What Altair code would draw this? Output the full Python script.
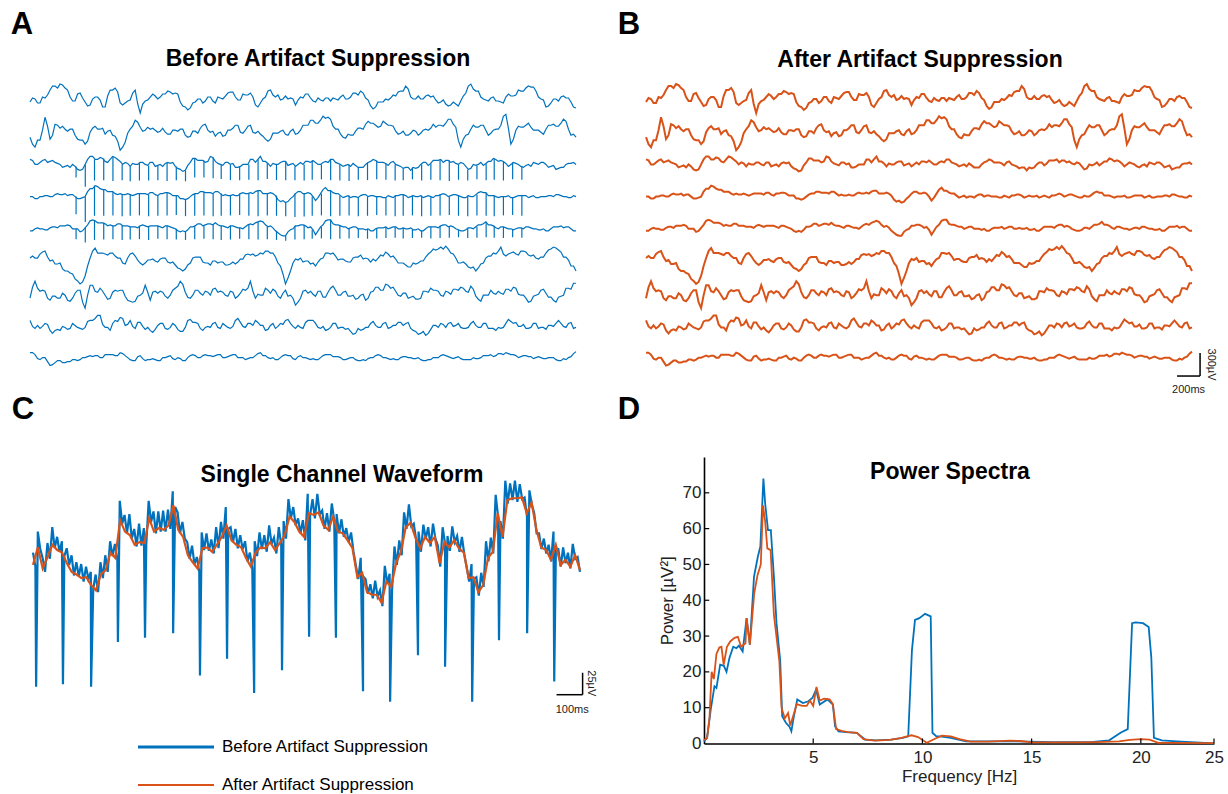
import altair as alt
import pandas as pd

BLUE = "#0072BD"
ORANGE = "#D95319"
FONT = "Liberation Sans"

# ---------------- Panels A / B : nine stacked EEG channels (µV) ----------------
# Each channel: samples read at an even step over the 4.74 s window (ch_k), plus the
# values read half-way between consecutive samples (ch_k_mid).
T_WIN = 4.74          # seconds shown
CH_SPACING = 420      # µV between stacked channels
ch_1 = [-26, 13, -39, 26, 130, 182, 208, 156, 39, -13, 91, -26, -65, 39, 0, -91, 130, 156, -39, -39,
        0, 130, -169, -13, 39, 52, 39, 78, 104, 91, -26, -91, -104, -26, 13, -13, 39, -39, 26, 52,
        104, 39, 0, 65, 91, -65, -39, 39, 130, 39, 0, 52, 26, -65, 39, 78, 26, -26, 0, 26,
        -13, 13, 39, 13, 39, 91, 117, 26, -78, -91, -26, 13, 26, 52, 117, 182, 39, 13, 13, 52,
        39, 0, -26, -52, -65, -52, -13, 91, 208, 117, 39, 0, 26, -13, -26, 39, 52, 65, 117, 156,
        169, 117, 13, -91, -39, 13, 39, 26, -26, -104]
ch_1_mid = [26, -39, 39, 65, 182, 156, 195, 130, -13, 78, 26, -78, 13, 39, -91, 52, 130, 104, -65, -13,
            91, -52, -52, 0, 78, 13, 78, 117, 78, 78, -78, -130, -39, 13, -39, 39, -13, 39, 13, 91,
            104, 0, 78, 65, 39, -91, 13, 117, 65, 65, 13, 13, 13, 0, 26, 78, -13, 26, -13, 26,
            26, 0, 65, 13, 91, 65, 91, 0, -117, -26, -26, 0, 65, 104, 117, 143, 13, 52, 13, 65,
            52, -39, 0, -78, -26, -78, 52, 182, 143, 117, 13, -13, 39, -13, -39, 78, 52, 130, 117, 182,
            169, 39, 0, -78, 13, -13, 52, 26, -91]
ch_2 = [-65, -195, -104, 195, -91, 104, 52, 39, 39, -39, -104, -156, 0, 78, 39, -26, 26, -52, -234, -130,
        39, 156, 65, 26, 39, 26, 13, 0, -26, 26, 39, -39, -52, 13, 52, 104, 0, -52, 0, -39,
        26, 91, 0, 26, 91, -13, -26, -91, -91, -13, 13, -26, 13, -26, 26, 91, 156, 117, 156, 182,
        169, 39, -26, -78, -39, 13, 52, 104, 117, 91, 78, 117, 91, 13, -13, -39, -13, 13, -13, 39,
        52, 65, 91, 117, 169, 65, -195, -39, 39, 65, 91, 26, -13, 39, 91, 234, -156, 26, 65, 91,
        65, 26, 0, 39, 91, 78, 117, 143, -39, -65]
ch_2_mid = [-156, -104, 26, 78, -39, 91, 78, 13, 39, -91, -104, -117, 52, 39, 52, 13, -39, -117, -195, -13,
            78, 130, 13, 65, 52, 0, 52, -26, 26, 13, 39, -65, 13, -13, 91, 26, 13, -13, -52, 26,
            52, 91, -13, 78, 0, 13, -52, -117, -13, -13, 26, -39, 39, -13, 91, 91, 156, 117, 208, 195,
            78, 39, -65, -26, -39, 52, 39, 143, 117, 65, 143, 91, 78, -26, 13, -39, 26, -39, 26, 26,
            104, 91, 78, 169, 104, -104, -91, -26, 91, 65, 91, -39, 26, 39, 208, 52, -91, 78, 65, 117,
            26, 26, -26, 91, 104, 78, 169, 39, -26]
ch_3 = [65, 0, 26, 65, 39, 26, 0, -26, -39, -26, -78, 0, 104, 65, 91, 39, 65, 91, 39, 26,
        -26, 0, 26, 0, 26, -26, 0, 13, 13, -26, -65, -78, 26, 78, 52, 26, 104, 39, 0, 26,
        0, -39, -26, 0, 65, 26, 104, 39, -26, 0, 26, 39, 0, -26, 26, 39, 26, 26, 0, 39,
        65, 26, 0, -13, -26, -13, -39, 0, 39, 52, 26, 13, 26, 0, -26, -39, -78, -52, 0, 26,
        13, 52, 65, 52, 26, 13, 26, -26, -52, -13, 26, 13, 39, 65, 52, 13, 0, 13, -26, -13,
        -26, 13, 26, 0, -26, -65, -39, 0, 13, 0]
ch_3_mid = [52, 0, 52, 26, 52, 13, -39, -13, 0, -65, -65, 65, 104, 65, 78, 26, 104, 65, 0, 13,
            13, 0, 26, -13, 26, -13, -26, 26, 26, -52, -91, -13, 78, 52, 52, 39, 91, 13, -13, 26,
            13, -39, 0, 0, 65, 65, 39, 13, 13, 0, 39, -13, 13, 0, 0, 39, 52, 0, 26, 26,
            65, 13, -26, 0, 13, -39, -39, 26, 65, 26, 26, -13, 39, -13, -52, -39, -39, -39, 26, -13,
            52, 52, 26, 52, 39, 0, 13, -65, 0, 0, -13, 39, 78, 39, 39, -26, 26, 0, -39, 0,
            26, 0, 26, -39, -13, -52, -39, 13, 26]
ch_4 = [0, -26, 0, 13, 0, 26, 26, 39, 26, 0, -26, 0, 104, 143, 104, 91, 65, 39, 39, 26,
        26, 26, 39, 39, 52, 26, 39, 52, 39, 13, -26, -39, 0, 39, 65, 52, 52, 65, 39, 26,
        13, 13, 39, 39, 52, 65, 78, 39, 52, 13, -65, -78, -26, 39, 65, 39, 39, -52, 39, 117,
        78, 39, 13, 0, -13, 0, 13, 26, 13, 0, 0, -13, 0, 13, 26, 13, 0, 0, 13, 0,
        0, 13, 26, 26, 13, 26, 0, -13, 0, 26, 65, 52, 13, 0, 0, 0, -13, 0, 13, 13,
        0, -13, 0, 0, 13, 26, 13, 0, -13, 0]
ch_4_mid = [0, -26, 0, 13, 0, 39, 26, 13, 26, -26, -13, 65, 104, 130, 91, 65, 65, 26, 26, 39,
            13, 39, 39, 26, 52, 13, 39, 52, 13, 13, -26, -26, 26, 39, 65, 52, 39, 65, 13, 13,
            26, 13, 52, 39, 39, 78, 39, 39, 39, -39, -52, -65, 0, 65, 39, 52, 0, -13, 91, 78,
            52, 39, -13, 13, 0, -13, 26, 0, 13, 0, -13, 13, -13, 13, 26, -13, 13, 0, -13, 13,
            -13, 13, 39, 0, 26, 13, -13, 13, 0, 52, 52, 13, 13, -13, 0, 13, -13, 13, 13, -13,
            13, -13, 0, 13, 0, 26, 0, -13, 13]
ch_5 = [-26, 0, 0, -13, 13, 26, 39, 39, 39, 0, -39, 13, 104, 104, 78, 65, 52, 39, 65, 39,
        26, 26, 39, 39, 39, 39, 26, 39, 26, 0, -39, -39, 26, 39, 65, 52, 65, 78, 39, 26,
        39, 26, 13, 26, 65, 78, 104, 52, 39, -26, -78, -91, -13, 39, 52, 39, 26, -78, 26, 104,
        117, 52, 39, 26, 13, 26, 0, -13, -26, 0, 13, 26, 13, 26, 0, 0, 13, -13, -26, 0,
        26, 26, 39, 52, 39, 0, -26, -13, 13, 26, 52, 91, 52, 13, 26, 13, 0, 0, 13, 26,
        13, 0, -13, -26, 0, 26, 39, 26, 0, -26]
ch_5_mid = [-26, 13, 0, -13, 26, 13, 39, 52, 0, 0, -26, 52, 117, 78, 78, 39, 39, 65, 39, 39,
            26, 13, 52, 26, 39, 39, 13, 39, 13, -26, -26, -13, 26, 65, 39, 65, 52, 52, 39, 13,
            39, 13, 0, 52, 52, 91, 91, 26, 13, -52, -91, -39, 0, 39, 52, 13, -13, -26, 52, 117,
            65, 52, 26, 0, 26, 0, 0, 0, -26, 13, 13, 0, 26, 0, 13, 0, -13, 0, -26, 26,
            26, 13, 52, 26, 26, -13, -26, 13, 0, 52, 65, 52, 39, 0, 26, 0, -13, 13, 0, 26,
            0, -13, 0, -26, 26, 26, 13, 26, -26]
ch_6 = [39, 39, 91, 130, 0, -39, -26, -130, -156, -234, -299, -195, 39, 169, 104, 91, 104, 65, 39, -39,
        91, 65, -26, -26, 13, 0, 26, 39, -26, -52, -104, -104, -26, 52, 52, -26, -52, 0, -13, -52,
        -39, -39, 26, 78, 78, 65, 104, 130, 104, 52, -65, -299, -130, 26, 39, 0, -39, -65, 26, 104,
        91, 65, 26, 0, -13, 52, 78, 39, -13, 0, 78, 117, 52, 26, -26, -52, -78, -39, 0, 52,
        117, 143, 182, 195, 104, 39, -26, -39, -91, -130, -39, 39, 65, 91, 182, 65, 104, 91, 130, 117,
        65, 39, 52, 104, 156, 169, 117, 52, -65, -130]
ch_6_mid = [65, 39, 117, 52, 13, -39, -104, -130, -169, -260, -273, -65, 130, 104, 104, 78, 104, 39, -26, 39,
            104, 13, -52, 13, 26, -13, 39, -13, -13, -91, -130, -52, 39, 52, -13, -26, 0, -26, -13, -52,
            -13, -13, 26, 91, 91, 78, 91, 130, 104, -26, -169, -221, -26, 13, -13, 0, -26, -13, 39, 104,
            104, 13, 26, -13, 39, 52, 26, 26, 26, 39, 65, 91, 65, -26, -26, -78, -26, -26, 0, 91,
            156, 156, 156, 156, 91, -26, -13, -78, -78, -91, -26, 65, 104, 130, 91, 91, 117, 78, 130, 78,
            78, 26, 52, 143, 182, 143, 52, 13, -65]
ch_7 = [-65, 156, 26, 26, -91, -39, -65, -26, -104, 0, 39, -195, 104, 26, 65, -26, -65, 39, 39, -39,
        -104, -104, -26, 104, -91, 26, 26, -39, -26, 65, 156, 13, -65, 39, 0, 26, -26, 65, 26, -26,
        26, -65, 0, 39, 156, -65, -26, 65, 0, 26, -65, 39, -26, -156, -65, 39, 26, -39, 26, -52,
        65, 39, -26, 26, -39, -78, -26, -91, 13, 78, 39, 117, 65, 26, -39, 0, -52, -78, -65, 26,
        65, 39, -26, 26, -13, 52, 78, 26, 91, -39, -104, -26, 39, -13, 0, 52, 26, 65, -26, -65,
        -104, -26, 39, 0, -52, -117, -39, 65, 52, 130]
ch_7_mid = [78, 65, 39, -65, -39, -65, 0, -91, -65, 39, -117, -26, 104, 13, 26, -78, 13, 26, 39, -91,
            -117, -39, 0, 13, 13, 0, 13, -65, 39, 91, 117, -52, -26, 39, -26, 13, 52, 13, 13, -39,
            13, -39, 52, 65, 26, -13, -26, 39, 52, -39, 0, -39, -65, -117, 26, 0, -13, 26, -52, 13,
            91, -26, 13, -39, -26, -65, -13, -65, 26, 78, 39, 104, 78, -26, 0, -65, -39, -78, 26, 13,
            39, 26, -39, 13, 52, 39, 65, 13, 52, -78, -26, -26, 0, 26, -13, 52, 78, -13, -26, -117,
            -39, -13, 52, -52, -91, -52, -26, 65, 130]
ch_8 = [65, -39, -39, 26, -65, -65, -65, -26, -39, 0, -39, -26, 65, 91, 130, -26, -65, 65, 104, 0,
        65, -39, 39, -52, -65, -52, 26, -39, -26, 0, -78, -26, 78, 39, -39, -26, -26, 39, -39, 0,
        -39, 65, 39, -26, 26, 65, 0, -65, 0, -39, 26, 65, 26, -39, -26, 39, 65, 26, -39, -65,
        -26, 26, -26, -52, -78, -104, -65, -26, 26, 0, -26, 39, -26, 0, 39, 26, -39, -78, -104, -130,
        -52, 0, 26, -26, 39, 0, -26, -39, 26, 0, -26, 26, -39, -65, -39, 26, 52, 39, -13, -39,
        -26, 26, -26, -52, 0, 26, 26, -26, 39, -26]
ch_8_mid = [-13, 0, -13, 13, -104, -52, -13, -52, 26, -26, -52, 52, 65, 130, 13, -26, 26, 52, 91, 13,
            -13, 39, -13, -26, -91, 0, 26, -52, 26, -52, -78, 65, 39, 26, -65, -13, 26, -26, 26, -26,
            -13, 91, -13, 26, 0, 39, 0, -52, 26, -13, 13, 78, -13, 0, -39, 65, 65, -26, -13, -52,
            26, -39, -26, -39, -117, -39, -52, -26, 52, -26, 26, -39, 0, 39, 0, 39, -65, -117, -78, -104,
            0, -26, 13, 26, -13, 26, -39, -26, 52, -26, 26, -39, -39, -26, -26, 78, 26, -13, 13, -39,
            26, -39, -26, 0, -13, 65, -13, 26, -39]
ch_9 = [65, 39, -26, 0, -104, -65, -39, -65, -52, -26, -26, 0, 26, 26, 0, 39, 39, 26, 65, 26,
        -26, -39, 26, -39, -26, -26, -39, 0, 26, -26, -13, -39, 26, 26, 0, 39, 26, 26, 39, 0,
        26, 39, 0, -26, 0, 26, 65, 26, -13, -26, 0, 39, 26, -26, 26, 0, -26, -26, 0, 39,
        39, 13, 0, -26, 0, -26, -39, -39, 0, 26, 26, 0, -26, -26, 0, 13, 0, -13, -26, -39,
        -26, 0, 26, 26, 0, 0, -13, -26, -26, -13, 0, 26, 39, 26, 52, 65, 39, 26, 13, 26,
        13, 0, 0, -13, 0, -26, -39, -26, 13, 78]
ch_9_mid = [65, -13, 0, -52, -91, -39, -65, -52, -26, -39, 0, 13, 13, 26, 0, 39, 39, 26, 52, 0,
            -39, 13, -13, -26, -13, -39, 0, 13, -13, 0, -39, 0, 39, 0, 26, 26, 13, 39, 0, 13,
            39, 0, 0, -13, 0, 52, 26, 0, 0, -26, 26, 26, -13, 13, 0, -13, -13, -26, 26, 39,
            13, 13, -26, -13, 0, -39, -26, -13, 0, 39, 0, -13, -13, -26, 13, 0, -13, 0, -39, -26,
            0, 0, 39, 13, -13, 13, -26, -26, 0, -13, 26, 26, 13, 52, 39, 52, 39, 0, 26, 13,
            -13, 13, -13, 0, 0, -39, -13, 0, 52]
channel_pairs = [(ch_1, ch_1_mid), (ch_2, ch_2_mid), (ch_3, ch_3_mid), (ch_4, ch_4_mid), (ch_5, ch_5_mid),
                 (ch_6, ch_6_mid), (ch_7, ch_7_mid), (ch_8, ch_8_mid), (ch_9, ch_9_mid)]

# stimulation artifacts (before suppression) on channels 3-5: times (s) and tip levels (µV)
spike_times = [0.40, 0.48, 0.56, 0.64, 0.72, 0.80, 0.87, 0.95, 1.03, 1.11, 1.19, 1.27, 1.35, 1.43, 1.51,
               1.59, 1.66, 1.74, 1.82, 1.90, 1.98, 2.06, 2.14, 2.22, 2.30, 2.38, 2.45, 2.53, 2.61, 2.69,
               2.77, 2.85, 2.93, 3.01, 3.09, 3.17, 3.24, 3.32, 3.40, 3.48, 3.56, 3.64, 3.72, 3.80, 3.88,
               3.96, 4.03, 4.11, 4.19, 4.27]
spike_tip_ch3 = [-170, -290, -210, -205, -215, -205, -220, -210, -210, -205, -215, -205, -220, -170, -170,
                 -180, -190, -205, -205, -200, -205, -190, -205, -205, -205, -210, -200, -195, -205, -210,
                 -215, -200, -205, -195, -200, -210, -205, -195, -210, -200, -205, -215, -200, -210, -195,
                 -205, -200, -210, -195, -200]
spike_tip_ch4 = [-230, -330, -250, -250, -245, -255, -250, -245, -255, -250, -245, -240, -255, -250, -245,
                 -255, -250, -245, -240, -250, -255, -245, -250, -255, -265, -260, -250, -245, -255, -250,
                 -245, -255, -250, -240, -245, -255, -250, -245, -255, -250, -245, -240, -250, -255, -245,
                 -250, -255, -245, -240, -250]
spike_tip_ch5 = [-135, -180, -145, -140, -135, -145, -140, -135, -145, -130, -135, -140, -145, -135, -130,
                 -135, -145, -140, -130, -135, -140, -135, -145, -155, -140, -135, -130, -125, -135, -130,
                 -125, -120, -130, -125, -120, -115, -125, -120, -115, -125, -120, -115, -110, -120, -115,
                 -110, -115, -120, -110, -115]

# ---------------- Panel C : single channel (µV) over 2100 ms ----------------
C_WIN = 2100
c_after = [-17, 3, -21, -8, 6, 0, -3, -15, -25, -28, -32, -31, -40, -46, -28, -23, -3, -9, 34, 21,
           17, 6, 9, 8, 36, 21, 25, 23, 28, 51, 23, 15, -6, -14, -21, 2, 3, -2, 6, 15,
           28, 11, 6, 3, -9, -19, -3, 3, 2, 9, 0, 8, 17, 38, 32, 21, 15, 42, 40, 43,
           28, 23, 38, 21, 19, 11, 2, -31, -26, -48, -51, -51, -60, -36, -42, -15, -2, 26, 31, 14,
           2, 15, 8, 15, -15, 9, 3, 11, 2, -3, -32, -31, -48, -40, -9, -2, 42, 15, 57, 59,
           59, 60, 42, 54, 23, 3, 0, -11, 6, -17, -11, -19, -6, -23]
c_before = [-3, -19, 21, 1, -9, -25, 8, -10, 26, 2, 15, -2, 10, -7, 2, -17, -6, -29, -14, -30,
            -16, -36, -19, -33, -25, -44, -28, -48, -14, -32, -6, -25, 10, -7, 7, -11, 56, 30, 40, 19,
            41, 13, 24, 4, 30, 5, 25, 6, 56, 32, 44, 19, 44, 21, 45, 21, 46, 24, 67, 49,
            43, 19, 32, 13, 9, -10, 5, -16, -8, -25, 20, 0, 19, -1, 12, -4, 26, 2, 32, 13,
            49, 24, 26, 9, 24, 2, 17, 1, 10, -13, -3, -21, 10, -7, 20, 1, 17, -2, 28, 7,
            14, -4, 26, 6, 33, 13, 58, 36, 49, 28, 36, 19, 34, 11, 64, 40, 58, 36, 64, 41,
            45, 24, 42, 21, 53, 34, 41, 19, 35, 15, 25, 9, 20, -2, -18, -33, -9, -30, -33, -50,
            -39, -55, -35, -53, -46, -64, -18, -38, -27, -46, 4, -17, 11, -6, 43, 24, 52, 27, 30, 12,
            21, -2, 29, 13, 26, 4, 30, 13, 5, -19, 26, 7, 16, -1, 27, 9, 16, -2, 15, -5,
            -20, -36, -16, -33, -31, -52, -26, -42, 10, -13, 14, -4, 63, 38, 33, 13, 79, 53, 76, 57,
            79, 55, 75, 58, 60, 38, 68, 52, 42, 19, 19, 1, 13, -4, 6, -13, 21, 2, 1, -19,
            3, -15, -3, -21, 7, -10, -8, -25]
c_spike_t = [12, 115, 223, 326, 430, 538, 641, 745, 849, 956, 1060, 1163, 1267, 1371, 1478, 1582, 1686, 1789, 1897, 2001]
c_spike_tip = [-156, -153, -156, -105, -100, -95, -143, -124, -163, -137, -99, -100, -161, -173, -120, -133, -173, -103, -95, -150]

# ---------------- Panel D : power spectra ----------------
d_before_f = [0, 0.14, 0.31, 0.48, 0.57, 0.74, 0.91, 1.03, 1.17, 1.34, 1.48, 1.6, 1.77, 1.95, 2.1, 2.29, 2.46, 2.58, 2.72, 2.8,
              2.93, 3.06, 3.2, 3.32, 3.49, 3.58, 3.75, 3.92, 4.0, 4.1, 4.27, 4.53, 4.78, 4.96, 5.13, 5.3, 5.65, 5.9, 6.0, 6.16,
              6.5, 7.0, 7.37, 7.88, 8.57, 9.1, 9.35, 9.52, 9.66, 9.86, 10.12, 10.38, 10.46, 10.64, 10.8, 11.3, 12, 13.4, 14.25, 16,
              17.7, 18.55, 19.07, 19.4, 19.6, 19.76, 20.1, 20.36, 20.48, 20.6, 20.96, 21.65, 23.35]
d_before_p = [0.6, 1.6, 9.5, 16, 15.5, 22, 21.7, 20, 24, 27, 26.6, 27.3, 25.7, 35, 27.6, 46.6, 52, 55, 74, 67,
              59.6, 59.6, 46.6, 33.6, 23, 7.6, 5.8, 4.6, 3.4, 7.1, 12.3, 11.3, 11.8, 12.7, 15, 10.9, 12.3, 10.9, 4.8, 3.4,
              3.2, 3, 1.1, 0.9, 1.1, 1.6, 2, 26, 34.5, 35, 36.2, 35.5, 3, 2, 2, 1.6, 0.6, 0.6, 0.6, 0.4,
              0.4, 0.9, 3, 4, 33.6, 33.8, 33.6, 32.5, 24, 1.6, 0.9, 0.6, 0]
d_after_f = [0, 0.14, 0.25, 0.35, 0.45, 0.57, 0.7, 0.8, 0.9, 1.05, 1.2, 1.4, 1.55, 1.7, 1.9, 1.95, 2.1, 2.3, 2.45, 2.6,
             2.7, 2.8, 2.9, 3.05, 3.2, 3.45, 3.55, 3.7, 3.85, 3.95, 4.1, 4.25, 4.5, 4.7, 4.85, 5.0, 5.15, 5.3, 5.5, 5.75,
             5.9, 6.05, 6.3, 6.6, 7.0, 7.3, 7.8, 8.5, 9.0, 9.5, 9.8, 10.2, 10.6, 10.9, 11.3, 11.7, 12.2, 13, 14, 14.5,
             15, 16, 17, 18, 19, 19.5, 20, 20.4, 20.8, 21.5, 23.35]
d_after_p = [1, 1.5, 7, 20, 18, 25, 26.8, 27, 22, 27, 28.5, 29.5, 29.8, 27, 28, 35, 27.6, 42, 47, 50,
             66.5, 62, 54.5, 54, 36, 23, 10, 7, 8.5, 5, 8, 11, 10.5, 10.5, 12, 10.5, 15.8, 12, 12.5, 12.3,
             11, 4, 3.5, 3.2, 3, 1.2, 0.8, 1, 1.5, 2.3, 1.8, 0.2, 1.4, 2.2, 2, 1.2, 0.5, 0.5, 0.8, 0.7,
             0.3, 0.3, 0.3, 0.4, 0.6, 1, 1.2, 1.1, 0.2, 0.2, 0.1]
d_x_ticks = [5, 10, 15, 20, 23.35]
d_y_ticks = [0, 10, 20, 30, 40, 50, 60, 70]


# ---------------- data frames ----------------
def merge_samples(main, mid):
    out = []
    for i, v in enumerate(main):
        out.append(v)
        if i < len(mid) and i < len(main) - 1:
            out.append(mid[i])
    return out


channels = [merge_samples(a, b) for a, b in channel_pairs]

rows = []
for ci, vals in enumerate(channels):
    n = len(vals)
    for i, v in enumerate(vals):
        rows.append({"ch": ci, "t": T_WIN * i / (n - 1), "y": v - ci * CH_SPACING})
eeg = pd.DataFrame(rows)

srows = []
for ci, tips in [(2, spike_tip_ch3), (3, spike_tip_ch4), (4, spike_tip_ch5)]:
    vals = channels[ci]
    n = len(vals)
    for t, tip in zip(spike_times, tips):
        idx = int(round(t / T_WIN * (n - 1)))
        srows.append({"ch": ci, "t": t, "y": vals[idx] - ci * CH_SPACING, "y2": tip - ci * CH_SPACING})
spikes = pd.DataFrame(srows)

c_after_df = pd.DataFrame({"t": [C_WIN * i / (len(c_after) - 1) for i in range(len(c_after))], "v": c_after})
c_before_df = pd.concat([
    pd.DataFrame({"t": [C_WIN * i / (len(c_before) - 1) for i in range(len(c_before))], "v": c_before}),
    pd.DataFrame({"t": c_spike_t, "v": c_spike_tip}),
]).sort_values("t")

d_before = pd.DataFrame({"f": d_before_f, "p": d_before_p})
d_after = pd.DataFrame({"f": d_after_f, "p": d_after_p})

# ---------------- scales (each panel placed on the canvas through its range) ----------------
xA = alt.Scale(domain=[0, T_WIN], range=[30, 576], nice=False, zero=False)
xB = alt.Scale(domain=[0, T_WIN], range=[646, 1192], nice=False, zero=False)
yAB = alt.Scale(domain=[-4000, 600], range=[406.7, 54], nice=False, zero=False)
xC = alt.Scale(domain=[0, C_WIN], range=[33, 580], nice=False, zero=False)
yC = alt.Scale(domain=[-200, 100], range=[725.4, 462.3], nice=False, zero=False)
xD = alt.Scale(domain=[0, 23.35], range=[704, 1214], nice=False, zero=False)
yD = alt.Scale(domain=[0, 80], range=[743.5, 457], nice=False, zero=False)

axD_x = alt.Axis(orient="bottom", offset=-50.5, values=d_x_ticks,
                 labelExpr="datum.value > 22 ? '25' : datum.label", ticks=False,
                 domainColor="black", domainWidth=1.6, labelFont=FONT, labelFontSize=17,
                 labelColor="#222", labelPadding=6, labelFlush=False, grid=False,
                 title="Frequency [Hz]", titleFont=FONT, titleFontSize=17, titleFontWeight="normal",
                 titleColor="#222", titlePadding=3)
axD_y = alt.Axis(orient="left", offset=-704, values=d_y_ticks, ticks=False,
                 domainColor="black", domainWidth=1.6, labelFont=FONT, labelFontSize=17,
                 labelColor="#222", labelPadding=3, labelFlush=False, grid=False,
                 title="Power [µV²]", titleFont=FONT, titleFontSize=17, titleFontWeight="normal",
                 titleColor="#222", titlePadding=6)

# ---------------- Panel A ----------------
a_lines = alt.Chart(eeg).mark_line(color=BLUE, strokeWidth=1.2).encode(
    x=alt.X("t:Q", scale=xA, axis=None), y=alt.Y("y:Q", scale=yAB, axis=None), detail="ch:N")
a_spikes = alt.Chart(spikes).mark_rule(color=BLUE, strokeWidth=1.2).encode(
    x=alt.X("t:Q", scale=xA, axis=None), y=alt.Y("y:Q", scale=yAB, axis=None), y2="y2:Q")
panel_a = alt.layer(a_lines, a_spikes)

# ---------------- Panel B ----------------
b_lines = alt.Chart(eeg).mark_line(color=ORANGE, strokeWidth=2).encode(
    x=alt.X("t:Q", scale=xB, axis=None), y=alt.Y("y:Q", scale=yAB, axis=None), detail="ch:N")
bar_b = pd.DataFrame({"t": [4.61, 4.81], "t2": [4.81, 4.81], "y": [-3600, -3600], "y2": [-3600, -3300]})
b_bar = alt.Chart(bar_b).mark_rule(color="black", strokeWidth=1.5).encode(
    x=alt.X("t:Q", scale=xB, axis=None), x2="t2:Q", y=alt.Y("y:Q", scale=yAB, axis=None), y2="y2:Q")
b_lab1 = alt.Chart(pd.DataFrame({"t": [4.71], "y": [-3600], "s": ["200ms"]})).mark_text(
    font=FONT, fontSize=11, dy=14, color="#222").encode(
    x=alt.X("t:Q", scale=xB, axis=None), y=alt.Y("y:Q", scale=yAB, axis=None), text="s:N")
b_lab2 = alt.Chart(pd.DataFrame({"t": [4.81], "y": [-3450], "s": ["300µV"]})).mark_text(
    font=FONT, fontSize=11, angle=90, dy=-11, color="#222").encode(
    x=alt.X("t:Q", scale=xB, axis=None), y=alt.Y("y:Q", scale=yAB, axis=None), text="s:N")
panel_b = alt.layer(b_lines, b_bar, b_lab1, b_lab2)

# ---------------- Panel C ----------------
c_blue = alt.Chart(c_before_df).mark_line(color=BLUE, strokeWidth=2.2).encode(
    x=alt.X("t:Q", scale=xC, axis=None), y=alt.Y("v:Q", scale=yC, axis=None))
c_orange = alt.Chart(c_after_df).mark_line(color=ORANGE, strokeWidth=2.2).encode(
    x=alt.X("t:Q", scale=xC, axis=None), y=alt.Y("v:Q", scale=yC, axis=None))
bar_c = pd.DataFrame({"t": [2010, 2110], "t2": [2110, 2110], "y": [-165, -165], "y2": [-165, -140]})
c_bar = alt.Chart(bar_c).mark_rule(color="black", strokeWidth=1.5).encode(
    x=alt.X("t:Q", scale=xC, axis=None), x2="t2:Q", y=alt.Y("y:Q", scale=yC, axis=None), y2="y2:Q")
c_lab1 = alt.Chart(pd.DataFrame({"t": [2070], "y": [-165], "s": ["100ms"]})).mark_text(
    font=FONT, fontSize=11, dy=15, color="#222").encode(
    x=alt.X("t:Q", scale=xC, axis=None), y=alt.Y("y:Q", scale=yC, axis=None), text="s:N")
c_lab2 = alt.Chart(pd.DataFrame({"t": [2110], "y": [-152], "s": ["25µV"]})).mark_text(
    font=FONT, fontSize=11, angle=90, dy=-8, color="#222").encode(
    x=alt.X("t:Q", scale=xC, axis=None), y=alt.Y("y:Q", scale=yC, axis=None), text="s:N")
panel_c = alt.layer(c_blue, c_orange, c_bar, c_lab1, c_lab2)

# ---------------- Panel D ----------------
d_blue = alt.Chart(d_before).mark_line(color=BLUE, strokeWidth=1.8).encode(
    x=alt.X("f:Q", scale=xD, axis=axD_x), y=alt.Y("p:Q", scale=yD, axis=axD_y))
d_orange = alt.Chart(d_after).mark_line(color=ORANGE, strokeWidth=1.8).encode(
    x=alt.X("f:Q", scale=xD, axis=axD_x), y=alt.Y("p:Q", scale=yD, axis=axD_y))
d_xt = alt.Chart(pd.DataFrame({"f": d_x_ticks})).mark_rule(color="black", strokeWidth=1.2).encode(
    x=alt.X("f:Q", scale=xD, axis=axD_x), y=alt.datum(0), y2=alt.datum(1.4))
d_yt = alt.Chart(pd.DataFrame({"p": d_y_ticks[1:]})).mark_rule(color="black", strokeWidth=1.2).encode(
    y=alt.Y("p:Q", scale=yD, axis=axD_y), x=alt.datum(0), x2=alt.datum(0.24))
panel_d = alt.layer(d_blue, d_orange, d_xt, d_yt)


# ---------------- annotations ----------------
def label(text, x, y, size, weight="bold", align="center"):
    return alt.Chart(pd.DataFrame({"s": [text]})).mark_text(
        font=FONT, fontSize=size, fontWeight=weight, align=align, baseline="middle", color="black"
    ).encode(text="s:N", x=alt.value(x), y=alt.value(y))


annotations = [
    label("A", 22, 25, 31), label("B", 629, 25, 31), label("C", 23, 410, 31), label("D", 629, 410, 31),
    label("Before Artifact Suppression", 318, 59, 23),
    label("After Artifact Suppression", 920, 60, 23),
    label("Single Channel Waveform", 342, 475, 23),
    label("Power Spectra", 950, 472, 23),
    label("Before Artifact Suppression", 222, 747, 17, "normal", "left"),
    label("After Artifact Suppression", 222, 785, 17, "normal", "left"),
]
leg_blue = alt.Chart(pd.DataFrame({"s": ["Before Artifact Suppression"]})).mark_rule(
    color=BLUE, strokeWidth=3).encode(x=alt.value(138), x2=alt.value(214), y=alt.value(747))
leg_orange = alt.Chart(pd.DataFrame({"s": ["After Artifact Suppression"]})).mark_rule(
    color=ORANGE, strokeWidth=2.2).encode(x=alt.value(138), x2=alt.value(214), y=alt.value(785))

chart = alt.layer(panel_a, panel_b, panel_c, panel_d, leg_blue, leg_orange, *annotations).resolve_scale(
    x="independent", y="independent"
).properties(
    width=1228, height=794, padding=0, autosize=alt.AutoSizeParams(type="none"), background="white"
).configure_view(stroke=None)

chart.save("out.html", embed_options={"renderer": "svg", "actions": False})
